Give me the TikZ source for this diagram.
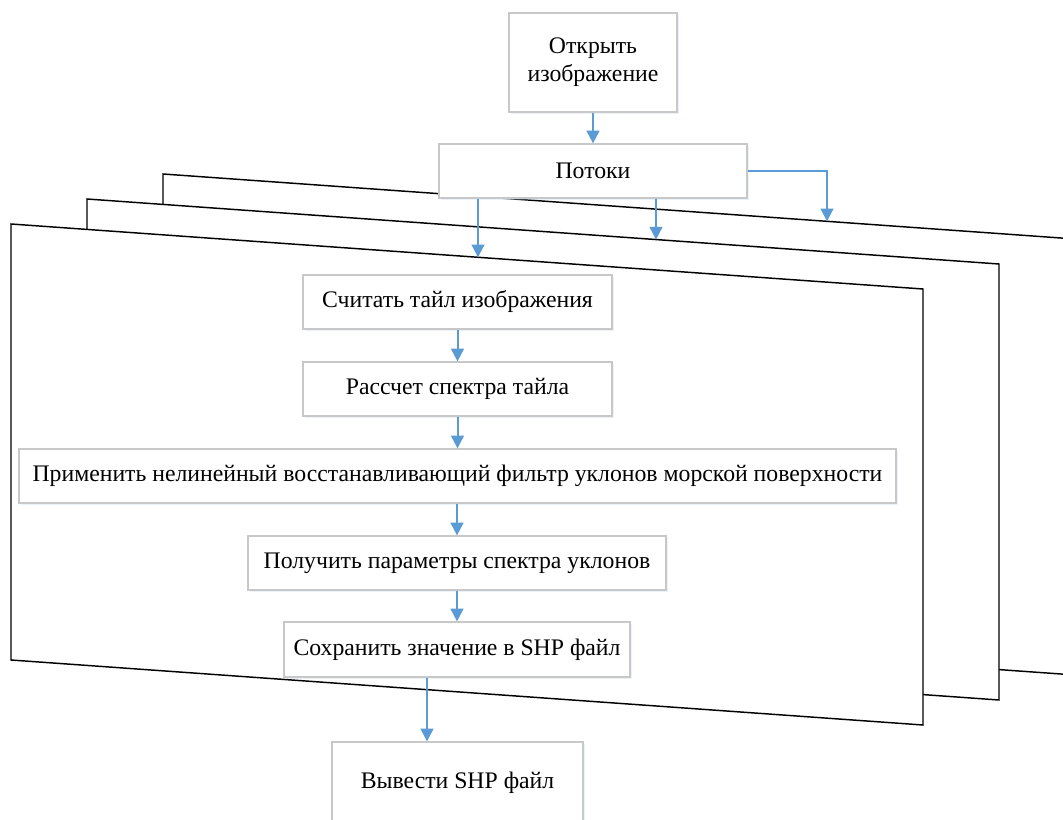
\documentclass[tikz,border=0pt]{standalone}
\usepackage{fontspec}
\setmainfont{Liberation Serif}
\usetikzlibrary{arrows.meta,shadows}
\definecolor{arrowblue}{HTML}{5B9BD5}
\definecolor{boxgray}{HTML}{C8C8C8}
\begin{document}
\begin{tikzpicture}[x=0.75pt,y=-0.75pt,
  stepbox/.style={draw=boxgray, line width=0.9pt, fill=white, inner sep=0pt,
    font=\fontsize{17.8}{21}\selectfont, align=center,
    drop shadow={shadow xshift=1.2pt, shadow yshift=-1.5pt, fill=arrowblue!40, opacity=0.3}},
  flow/.style={draw=arrowblue, line width=1.5pt, -{Triangle[length=9.5pt,width=9.5pt]}},
  sheet/.style={draw=black, line width=1.1pt, fill=white, line join=miter}]
\useasboundingbox (0,0) rectangle (1063,820);
\clip (0,0) rectangle (1063,820);
% stacked sheets (threads)
\draw[sheet] (163,174) -- (1075,239) -- (1075,675) -- (163,610) -- cycle;
\draw[sheet] (87,199) -- (999,264) -- (999,700) -- (87,635) -- cycle;
\draw[sheet] (11,224) -- (923,289) -- (923,725) -- (11,660) -- cycle;
\coordinate (pF) at (478,257.3);
\coordinate (pM) at (656,239.6);
\coordinate (pB) at (827,221.3);
\coordinate (xo) at (427,0);
% boxes
\node[stepbox, minimum width=126pt, minimum height=74.25pt] (b1) at (593,62.5) {Открыть\\изображение};
\node[stepbox, minimum width=231pt, minimum height=40.5pt] (b2) at (593,171) {Потоки};
\node[stepbox, minimum width=231.75pt, minimum height=40.5pt] (s1) at (457.5,302) {Считать тайл изображения};
\node[stepbox, minimum width=231.75pt, minimum height=40.5pt] (s2) at (457.5,389) {Рассчет спектра тайла};
\node[stepbox, minimum width=657.75pt, minimum height=40.5pt] (s3) at (457.5,476) {Применить нелинейный восстанавливающий фильтр уклонов морской поверхности};
\node[stepbox, minimum width=313.5pt, minimum height=40.5pt] (s4) at (457,563) {Получить параметры спектра уклонов};
\node[stepbox, minimum width=259.5pt, minimum height=41.25pt] (s5) at (457,649.5) {Сохранить значение в SHP файл};
\node[stepbox, minimum width=188.25pt, minimum height=61.5pt] (out) at (457.5,783) {Вывести SHP файл};
% connectors
\draw[flow] (b1) -- (b2);
\draw[flow] (b2.south -| pF) -- (pF);
\draw[flow] (b2.south -| pM) -- (pM);
\draw[flow] (b2.east) -| (pB);
\draw[flow] (s1) -- (s2);
\draw[flow] (s2) -- (s3);
\draw[flow] (s3.south -| s4.north) -- (s4);
\draw[flow] (s4) -- (s5);
\draw[flow] (s5.south -| xo) -- (out.north -| xo);
\end{tikzpicture}
\end{document}
